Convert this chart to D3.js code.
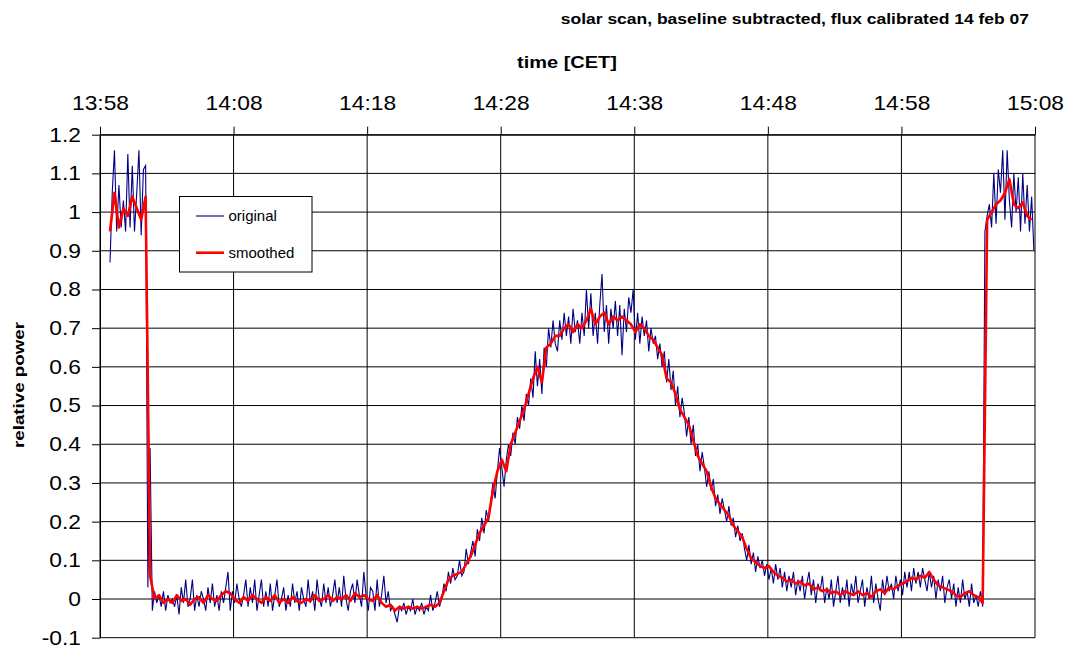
<!DOCTYPE html>
<html>
<head>
<meta charset="utf-8">
<script src="https://cdn.jsdelivr.net/npm/d3@7"></script>
<style>
  body { margin: 0; background: #fff; }
  svg { display: block; }
  text { font-family: Arial, "Liberation Sans", sans-serif; fill: #000; }
</style>
</head>
<body>
<svg id="chart" width="1067" height="648"></svg>
<script>
// ---- data -------------------------------------------------------------
const scanDay = "2007-02-14";
const timeTickLabels = ["13:58", "14:08", "14:18", "14:28", "14:38", "14:48", "14:58", "15:08"];
const powerTicks = [1.2, 1.1, 1.0, 0.9, 0.8, 0.7, 0.6, 0.5, 0.4, 0.3, 0.2, 0.1, 0.0, -0.1];
const powerTickLabels = ["1.2", "1.1", "1", "0.9", "0.8", "0.7", "0.6", "0.5", "0.4", "0.3", "0.2", "0.1", "0", "-0.1"];
const seriesNames = ["original", "smoothed"];

// raw detector samples, one every 10 s starting 13:58:45
const originalStartSec = 45;
const originalStepSec = 10;
const originalValues = [
  // sun in beam at start
  0.87, 1.05, 1.16, 0.95, 1.07, 0.96, 1.03, 0.95, 1.15, 0.96, 1.12, 0.95, 1.05, 1.16, 0.94, 1.11, 1.12,
  0.03, 0.39, -0.03,
  // cold sky
  0.02, -0.01, 0.01, -0.02, 0.02, -0.03, 0.01, -0.01, 0.00, -0.02,
  0.01, -0.04, 0.03, -0.01, 0.05, -0.02, 0.00, 0.05, -0.03, 0.01,
  -0.02, 0.02, 0.00, -0.03, 0.03, -0.01, 0.04, -0.02, 0.01, -0.03,
  0.02, -0.01, 0.03, 0.07, -0.03, 0.02, -0.01, 0.04, 0.00, -0.02,
  0.01, 0.05, -0.02, 0.03, -0.01, 0.05, -0.03, 0.01, 0.05, -0.02,
  0.02, -0.02, 0.04, -0.03, 0.01, 0.05, -0.02, 0.00, 0.03, -0.03,
  0.01, -0.02, 0.04, -0.01, 0.02, -0.03, 0.03, 0.00, -0.02, 0.05,
  -0.01, 0.02, -0.03, 0.05, 0.00, -0.02, 0.04, -0.01, 0.03, -0.02,
  0.01, 0.05, -0.01, 0.03, -0.02, 0.06, 0.00, -0.03, 0.02, 0.04,
  -0.01, 0.05, 0.01, -0.02, 0.07, 0.01, -0.03, 0.03, 0.02, -0.03,
  0.05, -0.02, 0.01, 0.06, -0.01, 0.02, -0.03, -0.02, -0.04, -0.06,
  -0.02, -0.03, -0.01, -0.04, -0.02, -0.03, 0.00, -0.04, -0.02, -0.03,
  -0.01, -0.04, -0.02, -0.03, 0.01, -0.03, -0.01, 0.02, -0.02,
  // sun drifting into the beam
  0.00, 0.04, 0.02, 0.07, 0.04, 0.08, 0.05, 0.06, 0.10, 0.06,
  0.07, 0.13, 0.09, 0.12, 0.15, 0.11, 0.18, 0.15, 0.21, 0.17,
  0.23, 0.20, 0.25, 0.30, 0.26, 0.33, 0.39, 0.34, 0.29, 0.36,
  0.40, 0.37, 0.43, 0.40, 0.47, 0.44, 0.50, 0.46, 0.53, 0.50,
  0.57, 0.52, 0.64, 0.55, 0.62, 0.53, 0.65, 0.60, 0.70, 0.65, 0.72, 0.66,
  // transit maximum
  0.64, 0.72, 0.67, 0.74, 0.68, 0.73, 0.66, 0.75, 0.69, 0.72,
  0.66, 0.74, 0.68, 0.80, 0.70, 0.79, 0.68, 0.74, 0.66, 0.76,
  0.84, 0.69, 0.76, 0.66, 0.75, 0.70, 0.77, 0.68, 0.76, 0.63,
  0.75, 0.69, 0.78, 0.74, 0.80, 0.67, 0.74, 0.66, 0.73, 0.68,
  0.72, 0.64, 0.70, 0.66, 0.68, 0.62, 0.66, 0.60,
  // sun drifting out
  0.64, 0.56, 0.62, 0.54, 0.59, 0.50, 0.55, 0.47, 0.52, 0.48,
  0.42, 0.47, 0.40, 0.45, 0.37, 0.40, 0.33, 0.38, 0.34, 0.29,
  0.33, 0.28, 0.31, 0.24, 0.27, 0.22, 0.26, 0.23, 0.20, 0.24,
  0.19, 0.21, 0.16, 0.19, 0.15, 0.17, 0.13, 0.10, 0.14, 0.09,
  0.12, 0.07, 0.11, 0.08, 0.10, 0.06, 0.09, 0.05, 0.08, 0.04,
  0.09, 0.05,
  // sky again
  0.08, 0.03, 0.07, 0.02, 0.06, 0.03, 0.07, 0.01, 0.05, 0.02,
  0.06, 0.00, 0.04, 0.07, 0.01, 0.05, -0.01, 0.04, 0.02, 0.06,
  -0.01, 0.03, 0.00, 0.05, -0.02, 0.02, 0.06, -0.01, 0.03, 0.00,
  0.05, -0.02, 0.04, 0.01, 0.06, -0.01, 0.02, 0.05, -0.02, 0.03,
  0.00, 0.06, -0.01, 0.04, 0.00, -0.03, 0.05, 0.01, 0.06, 0.02,
  0.04, 0.00, 0.06, 0.02, 0.05, 0.01, 0.07, 0.03, 0.07, 0.02,
  0.08, 0.04, 0.07, 0.03, 0.08, 0.05, 0.02, 0.07, 0.03, 0.06,
  0.00, 0.05, 0.02, 0.06, -0.01, 0.03, 0.05, 0.00, 0.04, -0.02,
  0.03, -0.01, 0.05, 0.00, 0.02, -0.02, 0.04, -0.01, 0.01, -0.02,
  0.02, -0.02,
  // antenna back on the sun
  0.95, 0.99, 1.02, 0.96, 1.10, 0.97, 1.11, 1.05, 1.16, 0.98, 1.16, 1.03,
  0.96, 1.10, 1.00, 1.09, 0.95, 1.10, 0.97, 1.07, 0.95, 1.04, 0.90
];

// running-mean curve, one value every 20 s starting 13:58:45
const smoothedStartSec = 45;
const smoothedStepSec = 20;
const smoothedValues = [
  0.95, 1.05, 0.96, 1.01, 0.99, 1.04, 1.01, 0.98, 1.04, 0.06,
  0.00, 0.01, -0.01, 0.00, -0.01, 0.01, -0.005, 0.00, -0.015, 0.00,
  0.005, -0.01, 0.01, 0.00, -0.005, 0.01, 0.02, 0.015, 0.00, -0.01,
  0.005, -0.005, 0.01, 0.00, -0.01, 0.005, -0.005, 0.01, -0.01, 0.00,
  -0.01, 0.005, -0.005, -0.01, 0.00, -0.005, 0.01, -0.005, 0.00, 0.01,
  -0.005, 0.005, 0.00, 0.01, -0.005, 0.015, 0.005, 0.01, 0.00, -0.005,
  0.01, -0.01, -0.02, -0.015, -0.03, -0.02, -0.025, -0.02, -0.025, -0.02,
  -0.025, -0.02, -0.015, -0.02, -0.01, 0.02, 0.05, 0.06, 0.065, 0.07,
  0.09, 0.11, 0.14, 0.17, 0.19, 0.21, 0.28, 0.33, 0.36, 0.33,
  0.40, 0.43, 0.46, 0.49, 0.53, 0.57, 0.60, 0.56, 0.65, 0.66,
  0.68, 0.68, 0.70, 0.71, 0.69, 0.71, 0.70, 0.72, 0.75, 0.71,
  0.73, 0.74, 0.71, 0.73, 0.72, 0.73, 0.72, 0.71, 0.69, 0.71,
  0.70, 0.68, 0.67, 0.65, 0.63, 0.57, 0.56, 0.53, 0.49, 0.47,
  0.45, 0.41, 0.37, 0.35, 0.33, 0.29, 0.26, 0.245, 0.23, 0.215,
  0.19, 0.175, 0.16, 0.13, 0.105, 0.095, 0.085, 0.08, 0.085, 0.07,
  0.06, 0.055, 0.045, 0.05, 0.04, 0.045, 0.035, 0.04, 0.025, 0.03,
  0.02, 0.025, 0.015, 0.02, 0.01, 0.02, 0.015, 0.01, 0.02, 0.01,
  0.015, 0.005, 0.02, 0.025, 0.015, 0.03, 0.025, 0.035, 0.04, 0.045,
  0.055, 0.05, 0.06, 0.055, 0.07, 0.05, 0.035, 0.03, 0.025, 0.02,
  0.01, 0.005, 0.015, 0.02, 0.01, 0.005, -0.01, 0.98, 1.00, 1.02,
  1.03, 1.05, 1.085, 1.02, 1.01, 1.025, 0.99, 0.98
];

// ---- layout -----------------------------------------------------------
const plot = { left: 100, right: 1035, top: 134.7, bottom: 637.7 };
const colors = { original: "#000080", smoothed: "#ff0000", grid: "#000" };
const tickStretch = 1.14;   // wide rendering of the numeric labels
const boldStretch = 1.25;   // wide rendering of the bold captions

const parseTime = d3.timeParse("%Y-%m-%d %H:%M");
const tickDates = timeTickLabels.map(s => parseTime(scanDay + " " + s));
const t0 = tickDates[0];

const original = originalValues.map((v, i) => ({
  t: d3.timeSecond.offset(t0, originalStartSec + i * originalStepSec), v
}));
const smoothed = smoothedValues.map((v, i) => ({
  t: d3.timeSecond.offset(t0, smoothedStartSec + i * smoothedStepSec), v
}));

const x = d3.scaleTime()
  .domain([tickDates[0], tickDates[tickDates.length - 1]])
  .range([plot.left, plot.right]);
const y = d3.scaleLinear()
  .domain([-0.1, 1.2])
  .range([plot.bottom, plot.top]);

const svg = d3.select("#chart");

// gridlines
const grid = svg.append("g").attr("stroke", colors.grid).attr("stroke-width", 1);
grid.selectAll("line.h").data(powerTicks).join("line")
  .attr("class", "h")
  .attr("x1", plot.left).attr("x2", plot.right)
  .attr("y1", d => y(d)).attr("y2", d => y(d));
grid.selectAll("line.v").data(tickDates).join("line")
  .attr("class", "v")
  .attr("x1", d => x(d)).attr("x2", d => x(d))
  .attr("y1", plot.top).attr("y2", plot.bottom);

// top time axis
const xAxis = svg.append("g")
  .attr("transform", `translate(0,${plot.top})`)
  .call(d3.axisTop(x)
    .tickValues(tickDates)
    .tickFormat((d, i) => timeTickLabels[i])
    .tickSize(8)
    .tickSizeOuter(0)
    .tickPadding(17));
xAxis.select(".domain").attr("stroke", "#000");
xAxis.selectAll(".tick line").attr("stroke", "#000");
xAxis.selectAll("text")
  .attr("font-size", 20)
  .attr("font-family", "Arial, 'Liberation Sans', sans-serif")
  .attr("transform", `scale(${tickStretch},1)`);

// left power axis
const yAxis = svg.append("g")
  .attr("transform", `translate(${plot.left},0)`)
  .call(d3.axisLeft(y)
    .tickValues(powerTicks)
    .tickFormat((d, i) => powerTickLabels[i])
    .tickSize(8)
    .tickSizeOuter(0)
    .tickPadding(11));
yAxis.select(".domain").attr("stroke", "#000");
yAxis.selectAll(".tick line").attr("stroke", "#000");
yAxis.selectAll("text")
  .attr("font-size", 20)
  .attr("font-family", "Arial, 'Liberation Sans', sans-serif")
  .attr("x", -19 / tickStretch)
  .attr("transform", `scale(${tickStretch},1)`);

// series
const line = d3.line().x(d => x(d.t)).y(d => y(d.v));
svg.append("path").datum(original)
  .attr("fill", "none")
  .attr("stroke", colors.original)
  .attr("stroke-width", 1.1)
  .attr("d", line);
svg.append("path").datum(smoothed)
  .attr("fill", "none")
  .attr("stroke", colors.smoothed)
  .attr("stroke-width", 2.6)
  .attr("stroke-linejoin", "round")
  .attr("d", line);

// captions
function caption(px, py, str, size, anchor, rotate) {
  const g = svg.append("g").attr("transform", `translate(${px},${py})` + (rotate ? ` rotate(${rotate})` : ""));
  g.append("text")
    .attr("font-size", size)
    .attr("font-weight", "bold")
    .attr("text-anchor", anchor)
    .attr("transform", `scale(${boldStretch},1)`)
    .text(str);
}
caption(1029, 24, "solar scan, baseline subtracted, flux calibrated 14 feb 07", 14, "end");
caption(567, 68, "time [CET]", 16, "middle");
caption(24, 385, "relative power", 15, "middle", -90);

// legend
const legend = svg.append("g").attr("transform", "translate(179.5,196.5)");
legend.append("rect")
  .attr("width", 132.5).attr("height", 75.5)
  .attr("fill", "#fff").attr("stroke", "#000").attr("stroke-width", 1);
const legendRows = [
  { name: seriesNames[0], color: colors.original, width: 1.1, dy: 19.5 },
  { name: seriesNames[1], color: colors.smoothed, width: 2.6, dy: 56.2 }
];
const row = legend.selectAll("g.row").data(legendRows).join("g")
  .attr("class", "row")
  .attr("transform", d => `translate(0,${d.dy})`);
row.append("line")
  .attr("x1", 16.5).attr("x2", 44.5)
  .attr("stroke", d => d.color).attr("stroke-width", d => d.width);
row.append("text")
  .attr("x", 49).attr("dy", "0.35em")
  .attr("font-size", 15)
  .text(d => d.name);
</script>
</body>
</html>
